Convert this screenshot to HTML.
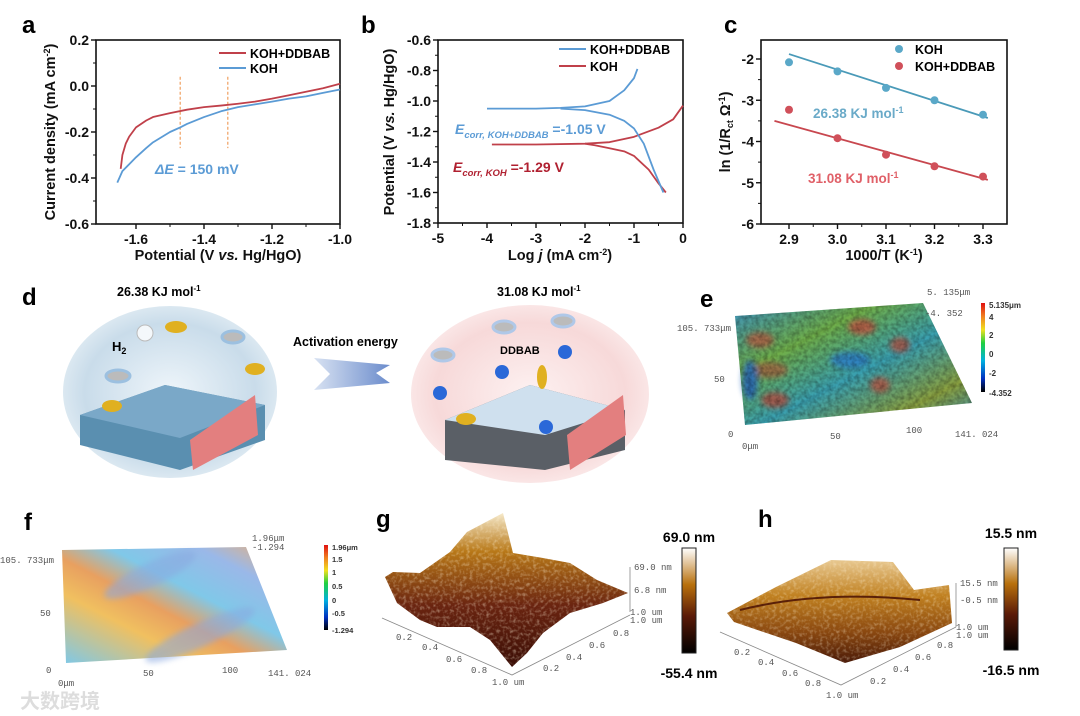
<!DOCTYPE html>
<html><head><meta charset="utf-8"><style>
body{margin:0;background:#fff}
svg{display:block;font-family:"Liberation Sans",Arial,sans-serif}
.tk{font-size:14px;font-weight:bold;fill:#111}
.tt{font-size:14.5px;font-weight:bold;fill:#111}
.pl{font-size:24px;font-weight:bold;fill:#000}
.sm{font-family:"Liberation Mono",monospace;font-size:9px;fill:#555}
</style></head><body>
<svg id="fig" width="1080" height="716" viewBox="0 0 1080 716">
<defs>
<radialGradient id="cL" cx="50%" cy="50%" r="50%"><stop offset="0" stop-color="#eef5fa"/><stop offset="0.8" stop-color="#c9dcea"/><stop offset="1" stop-color="#dbe8f1"/></radialGradient>
<radialGradient id="cR" cx="50%" cy="50%" r="50%"><stop offset="0" stop-color="#fdf1f1"/><stop offset="0.8" stop-color="#f7d9d9"/><stop offset="1" stop-color="#fae6e6"/></radialGradient>
<linearGradient id="arr" x1="0" x2="1"><stop offset="0" stop-color="#d8e2f2"/><stop offset="1" stop-color="#6b8ccc"/></linearGradient>
<linearGradient id="eG" x1="0" y1="0" x2="1" y2="1"><stop offset="0" stop-color="#3a8fc0"/><stop offset="0.3" stop-color="#6fae4a"/><stop offset="0.55" stop-color="#3aa0b0"/><stop offset="0.8" stop-color="#8aa040"/><stop offset="1" stop-color="#3c90b0"/></linearGradient>
<linearGradient id="fG" x1="0" y1="1" x2="1" y2="0"><stop offset="0" stop-color="#7ec8e8"/><stop offset="0.3" stop-color="#f0c060"/><stop offset="0.45" stop-color="#e8a060"/><stop offset="0.6" stop-color="#80c8e8"/><stop offset="0.8" stop-color="#9ab8e8"/><stop offset="1" stop-color="#f0b070"/></linearGradient>
<linearGradient id="jet" x1="0" y1="1" x2="0" y2="0"><stop offset="0" stop-color="#000"/><stop offset="0.15" stop-color="#0030c0"/><stop offset="0.35" stop-color="#00b0e0"/><stop offset="0.55" stop-color="#20d040"/><stop offset="0.7" stop-color="#f0e020"/><stop offset="0.85" stop-color="#f08020"/><stop offset="1" stop-color="#e01010"/></linearGradient>
<linearGradient id="afm" x1="0" y1="1" x2="0" y2="0"><stop offset="0" stop-color="#000"/><stop offset="0.35" stop-color="#5a1a08"/><stop offset="0.65" stop-color="#b8700c"/><stop offset="1" stop-color="#fff"/></linearGradient>
<linearGradient id="gS" x1="0" y1="0" x2="0" y2="1"><stop offset="0" stop-color="#f5e8c8"/><stop offset="0.25" stop-color="#b87818"/><stop offset="0.6" stop-color="#6a2410"/><stop offset="1" stop-color="#3a0e06"/></linearGradient>
<linearGradient id="hS" x1="0" y1="0" x2="0" y2="1"><stop offset="0" stop-color="#e8c890"/><stop offset="0.35" stop-color="#c08020"/><stop offset="0.7" stop-color="#8a4810"/><stop offset="1" stop-color="#4a1a08"/></linearGradient>
<filter id="bl"><feGaussianBlur stdDeviation="3"/></filter>
<filter id="tex" x="0" y="0" width="1" height="1"><feTurbulence type="fractalNoise" baseFrequency="0.25" numOctaves="2" seed="3"/><feColorMatrix type="matrix" values="0 0 0 0 0  0 0 0 0 0  0 0 0 0 0  0 0 0 -1.6 1.1"/><feComposite in2="SourceGraphic" operator="in"/></filter>
<filter id="texL" x="0" y="0" width="1" height="1"><feTurbulence type="fractalNoise" baseFrequency="0.3" numOctaves="2" seed="7"/><feColorMatrix type="matrix" values="0 0 0 0 1  0 0 0 0 0.9  0 0 0 0 0.7  0 0 0 -2 1.1"/><feComposite in2="SourceGraphic" operator="in"/></filter>
</defs>
<g id="ga"></g>
<g id="gb"></g>
<g id="gc"></g>

<g>
<text class="pl" x="22" y="305">d</text>
<text x="117" y="296" font-size="12.5" font-weight="bold">26.38 KJ mol<tspan dy="-5" font-size="8">-1</tspan></text>
<text x="497" y="296" font-size="12.5" font-weight="bold">31.08 KJ mol<tspan dy="-5" font-size="8">-1</tspan></text>
<ellipse cx="170" cy="392" rx="107" ry="86" fill="url(#cL)"/>
<polygon points="80,415 165,385 265,405 265,440 180,470 80,445" fill="#5a8fb0"/>
<polygon points="80,415 165,385 265,405 180,438" fill="#7aa8c8"/>
<polygon points="190,440 255,395 258,435 193,470" fill="#e37f7f"/>
<ellipse cx="118" cy="376" rx="12" ry="6" fill="#bbb" stroke="#9cc0e0" stroke-width="3"/>
<ellipse cx="176" cy="327" rx="11" ry="6" fill="#e0b020"/>
<ellipse cx="233" cy="337" rx="11" ry="6" fill="#bbb" stroke="#9cc0e0" stroke-width="3"/>
<ellipse cx="255" cy="369" rx="10" ry="6" fill="#e0b020"/>
<ellipse cx="112" cy="406" rx="10" ry="6" fill="#e0b020"/>
<circle cx="145" cy="333" r="8" fill="#f4f8fb" stroke="#bbb"/>
<text x="112" y="351" font-size="13" font-weight="bold">H<tspan dy="3" font-size="9">2</tspan></text>
<polygon points="314,358 390,365 376,373 390,383 314,390 330,374" fill="url(#arr)"/>
<text x="293" y="346" font-size="12.5" font-weight="bold">Activation energy</text>
<ellipse cx="530" cy="394" rx="119" ry="89" fill="url(#cR)"/>
<polygon points="445,420 530,385 625,410 625,450 545,470 445,460" fill="#5a5f66"/>
<polygon points="445,420 530,385 625,410 545,435" fill="#cfe0ee"/>
<polygon points="567,435 623,395 626,435 570,470" fill="#e37f7f"/>
<text x="500" y="354" font-size="11" font-weight="bold">DDBAB</text>
<g fill="#2a68d8"><circle cx="440" cy="393" r="7"/><circle cx="502" cy="372" r="7"/><circle cx="565" cy="352" r="7"/><circle cx="546" cy="427" r="7"/></g>
<ellipse cx="443" cy="355" rx="11" ry="6" fill="#bbb" stroke="#b0c8e8" stroke-width="3"/>
<ellipse cx="504" cy="327" rx="11" ry="6" fill="#bbb" stroke="#b0c8e8" stroke-width="3"/>
<ellipse cx="563" cy="321" rx="11" ry="6" fill="#bbb" stroke="#b0c8e8" stroke-width="3"/>
<ellipse cx="542" cy="377" rx="5" ry="12" fill="#e0b020"/>
<ellipse cx="466" cy="419" rx="10" ry="6" fill="#e0b020"/>
</g>

<g>
<text class="pl" x="700" y="307">e</text>
<polygon points="735,316 923,303 972,403 745,425" fill="url(#eG)"/>
<g filter="url(#bl)" opacity="0.8">
<ellipse cx="760" cy="340" rx="14" ry="8" fill="#b05a40"/><ellipse cx="862" cy="327" rx="14" ry="8" fill="#c05040"/>
<ellipse cx="900" cy="345" rx="10" ry="8" fill="#b05040"/><ellipse cx="770" cy="370" rx="18" ry="8" fill="#a06040"/>
<ellipse cx="775" cy="400" rx="14" ry="8" fill="#b04a3c"/><ellipse cx="880" cy="385" rx="10" ry="8" fill="#b05040"/>
<ellipse cx="750" cy="380" rx="8" ry="20" fill="#2060c0"/><ellipse cx="850" cy="360" rx="20" ry="8" fill="#2a7ac8"/>
</g>
<polygon points="735,316 923,303 972,403 745,425" fill="#000" opacity="0.35" filter="url(#tex)"/>
<rect x="981" y="303" width="4" height="89" fill="url(#jet)"/>
<g font-size="8" fill="#333" font-weight="bold"><text x="989" y="308">5.135μm</text><text x="989" y="320">4</text><text x="989" y="338">2</text><text x="989" y="357">0</text><text x="989" y="376">-2</text><text x="989" y="396">-4.352</text></g>
<g class="sm"><text x="927" y="295">5. 135μm</text><text x="925" y="316">-4. 352</text><text x="677" y="331">105. 733μm</text><text x="714" y="382">50</text><text x="728" y="437">0</text><text x="742" y="449">0μm</text><text x="830" y="439">50</text><text x="906" y="433">100</text><text x="955" y="437">141. 024</text></g>
</g>

<g>
<text class="pl" x="24" y="530">f</text>
<polygon points="62,550 246,547 287,650 66,663" fill="url(#fG)"/>
<g filter="url(#bl)" opacity="0.55" fill="#8aa8e0"><ellipse cx="150" cy="575" rx="50" ry="12" transform="rotate(-25 150 575)"/><ellipse cx="200" cy="635" rx="60" ry="12" transform="rotate(-25 200 635)"/></g>
<rect x="324" y="545" width="4" height="85" fill="url(#jet)"/>
<g font-size="7.5" fill="#333" font-weight="bold"><text x="332" y="550">1.96μm</text><text x="332" y="562">1.5</text><text x="332" y="575">1</text><text x="332" y="589">0.5</text><text x="332" y="603">0</text><text x="332" y="616">-0.5</text><text x="332" y="633">-1.294</text></g>
<g class="sm"><text x="252" y="541">1.96μm</text><text x="252" y="550">-1.294</text><text x="0" y="563">105. 733μm</text><text x="40" y="616">50</text><text x="46" y="673">0</text><text x="58" y="686">0μm</text><text x="143" y="676">50</text><text x="222" y="673">100</text><text x="268" y="676">141. 024</text></g>
<text x="20" y="708" font-size="20" font-weight="bold" fill="#ddd" font-family="'Liberation Sans','Noto Sans CJK SC',sans-serif">大数跨境</text>
</g>

<g>
<text class="pl" x="376" y="527">g</text>
<polyline points="382,618 512,675 630,615" fill="none" stroke="#888" stroke-width="0.8"/>
<polygon points="385,577 393,572 420,573 450,552 467,532 503,513 513,553 543,558 570,563 597,580 628,593 603,603 570,613 543,633 527,653 512,667 490,640 470,627 437,627 420,620 397,603" fill="url(#gS)"/>
<polygon points="385,577 393,572 420,573 450,552 467,532 503,513 513,553 543,558 570,563 597,580 628,593 603,603 570,613 543,633 527,653 512,667 490,640 470,627 437,627 420,620 397,603" fill="#fff" opacity="0.45" filter="url(#texL)"/>
<rect x="682" y="548" width="14" height="105" fill="url(#afm)" stroke="#222"/>
<text x="689" y="542" font-size="14" font-weight="bold" text-anchor="middle">69.0 nm</text>
<text x="689" y="678" font-size="14" font-weight="bold" text-anchor="middle">-55.4 nm</text>
<line x1="630" y1="567" x2="630" y2="612" stroke="#888" stroke-width="0.8"/>
<g class="sm" font-size="7.5"><text x="634" y="570">69.0 nm</text><text x="634" y="593">6.8 nm</text><text x="630" y="615">1.0 um</text><text x="630" y="623">1.0 um</text>
<text x="396" y="640">0.2</text><text x="422" y="650">0.4</text><text x="446" y="662">0.6</text><text x="471" y="673">0.8</text><text x="492" y="685">1.0 um</text>
<text x="543" y="671">0.2</text><text x="566" y="660">0.4</text><text x="589" y="648">0.6</text><text x="613" y="636">0.8</text></g>
</g>

<g>
<text class="pl" x="758" y="527">h</text>
<polyline points="720,632 841,685 956,627" fill="none" stroke="#888" stroke-width="0.8"/>
<polygon points="727,613 776,587 831,560 893,562 914,590 949,585 952,623 900,647 845,663 796,643 734,622" fill="url(#hS)"/>
<polygon points="727,613 776,587 831,560 893,562 914,590 949,585 952,623 900,647 845,663 796,643 734,622" fill="#fff" opacity="0.4" filter="url(#texL)"/>
<path d="M740,610 Q820,590 920,600" stroke="#5a2008" stroke-width="2" fill="none"/>
<rect x="1004" y="548" width="14" height="102" fill="url(#afm)" stroke="#222"/>
<text x="1011" y="538" font-size="14" font-weight="bold" text-anchor="middle">15.5 nm</text>
<text x="1011" y="675" font-size="14" font-weight="bold" text-anchor="middle">-16.5 nm</text>
<line x1="956" y1="583" x2="956" y2="627" stroke="#888" stroke-width="0.8"/>
<g class="sm" font-size="7.5"><text x="960" y="586">15.5 nm</text><text x="960" y="603">-0.5 nm</text><text x="956" y="630">1.0 um</text><text x="956" y="638">1.0 um</text>
<text x="734" y="655">0.2</text><text x="758" y="665">0.4</text><text x="782" y="676">0.6</text><text x="805" y="686">0.8</text><text x="826" y="698">1.0 um</text>
<text x="870" y="684">0.2</text><text x="893" y="672">0.4</text><text x="915" y="660">0.6</text><text x="937" y="648">0.8</text></g>
</g>
</svg>
<script>
const aRedX=[-1.645,-1.64,-1.63,-1.62,-1.6,-1.57,-1.55,-1.5,-1.45,-1.4,-1.35,-1.3,-1.25,-1.2,-1.15,-1.1,-1.05,-1.0];
const aRedY=[-0.36,-0.30,-0.25,-0.22,-0.18,-0.15,-0.135,-0.118,-0.103,-0.092,-0.085,-0.077,-0.068,-0.055,-0.04,-0.025,-0.01,0.01];
const aBlueX=[-1.655,-1.64,-1.62,-1.6,-1.57,-1.55,-1.5,-1.47,-1.45,-1.4,-1.35,-1.3,-1.25,-1.2,-1.15,-1.1,-1.05,-1.0];
const aBlueY=[-0.42,-0.37,-0.34,-0.31,-0.27,-0.245,-0.2,-0.18,-0.165,-0.135,-0.11,-0.092,-0.08,-0.068,-0.055,-0.045,-0.03,-0.015];
const aXTicks=[-1.6,-1.4,-1.2,-1.0];
const aYTicks=[0.2,0.0,-0.2,-0.4,-0.6];
const aMarkers=[-1.47,-1.33];
const bBlueAnX=[-4,-3,-2.5,-2,-1.5,-1.2,-1.0,-0.93];
const bBlueAnY=[-1.05,-1.05,-1.045,-1.035,-1.0,-0.93,-0.85,-0.79];
const bBlueCaX=[-2.5,-2,-1.5,-1.2,-1,-0.8,-0.6,-0.4];
const bBlueCaY=[-1.05,-1.06,-1.09,-1.13,-1.18,-1.28,-1.45,-1.6];
const bRedAnX=[-3.9,-3,-2,-1.5,-1,-0.5,-0.2,0];
const bRedAnY=[-1.285,-1.285,-1.28,-1.27,-1.235,-1.175,-1.12,-1.03];
const bRedCaX=[-2.0,-1.8,-1.5,-1.2,-1,-0.7,-0.5,-0.35];
const bRedCaY=[-1.28,-1.29,-1.31,-1.33,-1.36,-1.45,-1.54,-1.6];
const bXTicks=[-5,-4,-3,-2,-1,0];
const bYTicks=[-0.6,-0.8,-1.0,-1.2,-1.4,-1.6,-1.8];
const cX=[2.9,3.0,3.1,3.2,3.3];
const cKOH=[-2.08,-2.3,-2.7,-3.0,-3.35];
const cDDBAB=[-3.23,-3.92,-4.32,-4.6,-4.85];
const cKOHFitX=[2.9,3.31], cKOHFitY=[-1.88,-3.43];
const cDDFitX=[2.87,3.31], cDDFitY=[-3.5,-4.93];
const cXTicks=[2.9,3.0,3.1,3.2,3.3];
const cYTicks=[-2,-3,-4,-5,-6];

const NS="http://www.w3.org/2000/svg";
function mk(p,t,at,txt){const e=document.createElementNS(NS,t);for(const k in at)e.setAttribute(k,at[k]);if(txt!==undefined)e.textContent=txt;p.appendChild(e);return e;}
function scale(d0,d1,r0,r1){return v=>r0+(v-d0)*(r1-r0)/(d1-d0);}
function axes(g,X,Y,box,xt,yt,fx,fy){
  const [x0,y0,x1,y1]=box;
  const fr=mk(g,'rect',{x:x0,y:y0,width:x1-x0,height:y1-y0,fill:'none',stroke:'#111','stroke-width':1.6});
  
  
  xt.forEach((v,i)=>{const x=X(v);mk(g,'line',{x1:x,x2:x,y1:y1,y2:y1+5,stroke:'#111','stroke-width':1.4});
    if(i<xt.length-1){const xm=(x+X(xt[i+1]))/2;mk(g,'line',{x1:xm,x2:xm,y1:y1,y2:y1+3,stroke:'#111','stroke-width':1});}
    const t=mk(g,'text',{x:x,y:y1+20,'text-anchor':'middle',class:'tk'},fx(v));
    
    });
  yt.forEach((v,i)=>{const y=Y(v);mk(g,'line',{x1:x0-5,x2:x0,y1:y,y2:y,stroke:'#111','stroke-width':1.4});
    if(i<yt.length-1){const ym=(y+Y(yt[i+1]))/2;mk(g,'line',{x1:x0-3,x2:x0,y1:ym,y2:ym,stroke:'#111','stroke-width':1});}
    const t=mk(g,'text',{x:x0-7,y:y+5,'text-anchor':'end',class:'tk'},fy(v));
    
    });
}
function line(g,X,Y,xs,ys,col,name,w){
  const p=mk(g,'polyline',{points:xs.map((x,i)=>X(x)+','+Y(ys[i])).join(' '),fill:'none',stroke:col,'stroke-width':w||1.8,'stroke-linejoin':'round'});
  
  
}
const f1=v=>v.toFixed(1);
(function(){const g=document.getElementById('ga');
 const X=scale(-1.6,-1.0,136,340),Y=scale(0.2,-0.6,40,224);
 axes(g,X,Y,[96,40,340,224],aXTicks,aYTicks,f1,f1);
 aMarkers.forEach(m=>{const l=mk(g,'line',{x1:X(m),x2:X(m),y1:Y(0.04),y2:Y(-0.27),stroke:'#f0a060','stroke-width':1.2,'stroke-dasharray':'3,2'});
  
  });
 line(g,X,Y,aBlueX,aBlueY,'#5b9bd5','koh-curve');
 line(g,X,Y,aRedX,aRedY,'#c0404a','koh-ddbab-curve');
 mk(g,'line',{x1:219,x2:246,y1:53,y2:53,stroke:'#c0404a','stroke-width':2});
 mk(g,'line',{x1:219,x2:246,y1:68,y2:68,stroke:'#5b9bd5','stroke-width':2});
 mk(g,'text',{x:250,y:58,'font-size':12.5,'font-weight':'bold'},'KOH+DDBAB');
 mk(g,'text',{x:250,y:73,'font-size':12.5,'font-weight':'bold'},'KOH');
 const d=mk(g,'text',{x:155,y:174,'font-size':14,'font-weight':'bold',fill:'#5b9bd5'});d.innerHTML='<tspan font-style="italic">ΔE</tspan> = 150 mV';
 mk(g,'text',{class:'pl',x:22,y:33},'a');
 const yt=mk(g,'text',{class:'tt',transform:'translate(55,132) rotate(-90)','text-anchor':'middle'});yt.innerHTML='Current density (mA cm<tspan dy="-5" font-size="9">-2</tspan><tspan dy="5">)</tspan>';
 const xt=mk(g,'text',{class:'tt',x:218,y:260,'text-anchor':'middle'});xt.innerHTML='Potential (V <tspan font-style="italic">vs.</tspan> Hg/HgO)';
})();
(function(){const g=document.getElementById('gb');
 const X=scale(-5,0,438,683),Y=scale(-0.6,-1.8,40,223);
 axes(g,X,Y,[438,40,683,223],bXTicks,bYTicks,v=>String(v),f1);
 line(g,X,Y,bRedAnX,bRedAnY,'#c0404a','koh-anodic');
 line(g,X,Y,bRedCaX,bRedCaY,'#c0404a','koh-cathodic');
 line(g,X,Y,bBlueAnX,bBlueAnY,'#5b9bd5','ddbab-anodic');
 line(g,X,Y,bBlueCaX,bBlueCaY,'#5b9bd5','ddbab-cathodic');
 mk(g,'line',{x1:559,x2:586,y1:49,y2:49,stroke:'#5b9bd5','stroke-width':2});
 mk(g,'line',{x1:559,x2:586,y1:66,y2:66,stroke:'#c0404a','stroke-width':2});
 mk(g,'text',{x:590,y:54,'font-size':12.5,'font-weight':'bold'},'KOH+DDBAB');
 mk(g,'text',{x:590,y:71,'font-size':12.5,'font-weight':'bold'},'KOH');
 const e1=mk(g,'text',{x:455,y:134,'font-size':14,'font-weight':'bold',fill:'#5b9bd5'});e1.innerHTML='<tspan font-style="italic">E<tspan dy="4" font-size="9.5">corr, KOH+DDBAB</tspan></tspan><tspan dy="-4"> =-1.05 V</tspan>';
 const e2=mk(g,'text',{x:453,y:172,'font-size':14,'font-weight':'bold',fill:'#b02030'});e2.innerHTML='<tspan font-style="italic">E<tspan dy="4" font-size="9.5">corr, KOH</tspan></tspan><tspan dy="-4"> =-1.29 V</tspan>';
 mk(g,'text',{class:'pl',x:361,y:33},'b');
 const yt=mk(g,'text',{class:'tt',transform:'translate(394,132) rotate(-90)','text-anchor':'middle'});yt.innerHTML='Potential (V <tspan font-style="italic">vs.</tspan> Hg/HgO)';
 const xt=mk(g,'text',{class:'tt',x:560,y:260,'text-anchor':'middle'});xt.innerHTML='Log <tspan font-style="italic">j</tspan> (mA cm<tspan dy="-5" font-size="9">-2</tspan><tspan dy="5">)</tspan>';
})();
(function(){const g=document.getElementById('gc');
 const X=scale(2.9,3.3,789,983),Y=scale(-2,-6,59,224);
 axes(g,X,Y,[761,40,1007,224],cXTicks,cYTicks,f1,v=>String(v));
 line(g,X,Y,cKOHFitX,cKOHFitY,'#4a9ab8','koh-fit-line');
 line(g,X,Y,cDDFitX,cDDFitY,'#c8474f','ddbab-fit-line');
 cX.forEach((x,i)=>{const a=mk(g,'circle',{cx:X(x),cy:Y(cKOH[i]),r:4,fill:'#5aa8c8'});
  
  
  const b=mk(g,'circle',{cx:X(x),cy:Y(cDDBAB[i]),r:4,fill:'#d0505a'});
  
  });
 mk(g,'circle',{cx:899,cy:49,r:4,fill:'#5aa8c8'});mk(g,'circle',{cx:899,cy:66,r:4,fill:'#d0505a'});
 mk(g,'text',{x:915,y:54,'font-size':12.5,'font-weight':'bold'},'KOH');
 mk(g,'text',{x:915,y:71,'font-size':12.5,'font-weight':'bold'},'KOH+DDBAB');
 const t1=mk(g,'text',{x:813,y:118,'font-size':13.5,'font-weight':'bold',fill:'#6aaac8'});t1.innerHTML='26.38 KJ mol<tspan dy="-5" font-size="9">-1</tspan>';
 const t2=mk(g,'text',{x:808,y:183,'font-size':13.5,'font-weight':'bold',fill:'#e06068'});t2.innerHTML='31.08 KJ mol<tspan dy="-5" font-size="9">-1</tspan>';
 mk(g,'text',{class:'pl',x:724,y:33},'c');
 const yt=mk(g,'text',{class:'tt',transform:'translate(730,132) rotate(-90)','text-anchor':'middle'});yt.innerHTML='ln (1/R<tspan dy="3" font-size="9">ct</tspan><tspan dy="-3"> Ω</tspan><tspan dy="-5" font-size="9">-1</tspan><tspan dy="5">)</tspan>';
 const xt=mk(g,'text',{class:'tt',x:884,y:260,'text-anchor':'middle'});xt.innerHTML='1000/T (K<tspan dy="-5" font-size="9">-1</tspan><tspan dy="5">)</tspan>';
})();
</script>
</body></html>
